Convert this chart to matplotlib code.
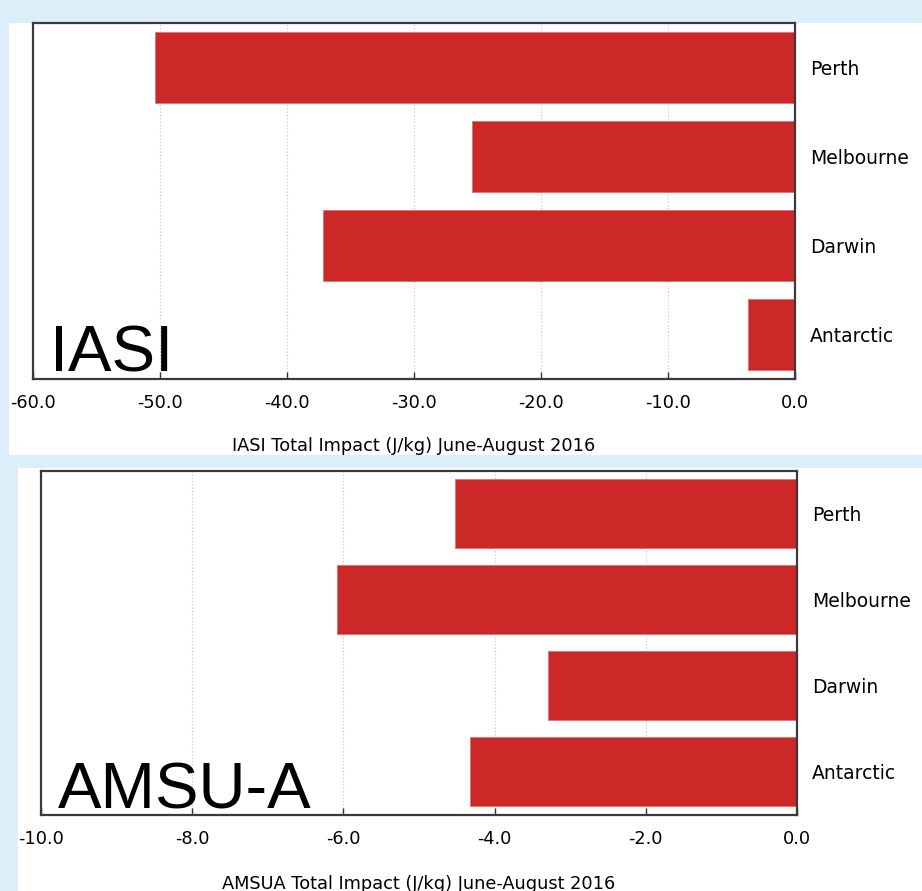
import matplotlib
matplotlib.use("Agg")
import matplotlib.pyplot as plt
from matplotlib.patches import Rectangle

# station impacts, June-August 2016
stations = ["Perth", "Melbourne", "Darwin", "Antarctic"]
iasi_impact = [-50.4, -25.4, -37.2, -3.7]
amsua_impact = [-4.52, -6.09, -3.29, -4.32]

iasi_ticks = [-60, -50, -40, -30, -20, -10, 0]
amsua_ticks = [-10, -8, -6, -4, -2, 0]

W, H = 922, 891
bg = "#ddeefb"
bar_color = "#cc2828"

fig = plt.figure(figsize=(W / 100, H / 100), dpi=100, facecolor=bg)


def px_box(x0, y0, x1, y1):
    # pixel box (top-left origin) -> figure fraction [l, b, w, h]
    return [x0 / W, 1 - y1 / H, (x1 - x0) / W, (y1 - y0) / H]


# white panels behind each chart
for x0, y0, x1, y1 in [(9, 23, 922, 455), (18, 468, 922, 891)]:
    l, b, w, h = px_box(x0, y0, x1, y1)
    fig.patches.append(Rectangle((l, b), w, h, transform=fig.transFigure,
                                 facecolor="white", edgecolor="none", zorder=-5))


def impact_panel(box, values, ticks, xlabel, tag, labelpad):
    ax = fig.add_axes(px_box(*box))
    ax.set_facecolor("white")
    ypos = list(range(len(stations)))
    ax.barh(ypos, values, height=0.8, color=bar_color, edgecolor="#e07070",
            linewidth=0.6, zorder=2)
    ax.set_xlim(ticks[0], ticks[-1])
    ax.set_ylim(len(stations) - 0.5, -0.5)
    ax.set_xticks(ticks)
    ax.set_xticklabels([f"{t:.1f}" for t in ticks], fontsize=12.8)
    ax.set_yticks(ypos)
    ax.set_yticklabels(stations, fontsize=13.5)
    ax.yaxis.tick_right()
    ax.tick_params(axis="y", length=0, pad=11)
    ax.tick_params(axis="x", direction="in", length=5, width=1,
                   color="#333333", pad=11)
    ax.grid(axis="x", linestyle=(0, (1, 2)), color="#c4c4c4", linewidth=0.8,
            zorder=0)
    ax.set_axisbelow(True)
    for s in ax.spines.values():
        s.set_color("#3a3a3a")
        s.set_linewidth(1.6)
    ax.set_xlabel(xlabel, fontsize=12.8, labelpad=labelpad)
    ax.text(0.022, 0.02, tag, transform=ax.transAxes, fontsize=47,
            family="Liberation Sans", ha="left", va="baseline", zorder=3)
    return ax


impact_panel((33, 23.5, 795, 379), iasi_impact, iasi_ticks,
             "IASI Total Impact (J/kg) June-August 2016", "IASI", 18)
impact_panel((41, 470.5, 797, 815), amsua_impact, amsua_ticks,
             "AMSUA Total Impact (J/kg) June-August 2016", "AMSU-A", 19)

fig.savefig("out.png", dpi=100, facecolor=bg)
